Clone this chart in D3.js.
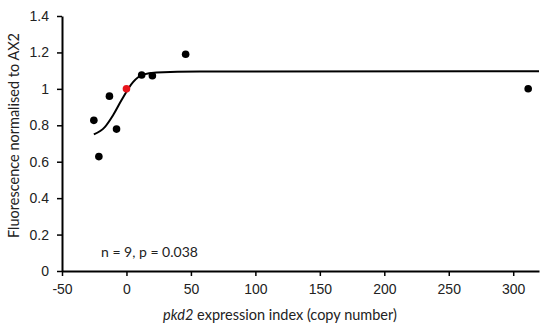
<!DOCTYPE html>
<html>
<head>
<meta charset="utf-8">
<script src="https://cdn.jsdelivr.net/npm/d3@7"></script>
<style>
  body { margin: 0; background: #fff; }
  svg { display: block; font-family: Lato, "Open Sans", sans-serif; }
</style>
</head>
<body>
<div id="chart"></div>
<script>
// ---- data ----
const pointsX = [-25.3, -21.4, -13.2, -7.7, 11.8, 20.1, 45.9, 311.6];
const pointsY = [0.827, 0.628, 0.96, 0.779, 1.076, 1.072, 1.19, 1.001];
const refPoint = [0, 1.0]; // red point
// fitted curve
const curveX = [-25.3, -16.8, -10.4, -3.9, 5.1, 12.8, 23.2, 56.7, 320];
const curveY = [0.75, 0.79, 0.855, 0.937, 1.037, 1.078, 1.09, 1.095, 1.097];
const xTicks = [-50, 0, 50, 100, 150, 200, 250, 300];
const yTicks = [0, 0.2, 0.4, 0.6, 0.8, 1, 1.2, 1.4];
const note = "n = 9, p = 0.038";

const width = 550, height = 330;
const margin = { top: 16, right: 11, bottom: 59, left: 62 };

const svg = d3.select("#chart").append("svg")
    .attr("width", width)
    .attr("height", height);

const x = d3.scaleLinear()
    .domain([-50, 320])
    .range([margin.left, width - margin.right]);

const y = d3.scaleLinear()
    .domain([0, 1.4])
    .range([height - margin.bottom, margin.top]);

// x axis (plain hyphen for negatives, like the original)
const xAxis = svg.append("g")
    .attr("transform", `translate(0,${y(0)})`)
    .call(d3.axisBottom(x).tickValues(xTicks).tickSize(5).tickSizeOuter(0).tickPadding(8)
        .tickFormat(d => String(d)));

// y axis
const yAxis = svg.append("g")
    .attr("transform", `translate(${x(-50)},0)`)
    .call(d3.axisLeft(y).tickValues(yTicks).tickSize(5).tickSizeOuter(0).tickPadding(8)
        .tickFormat(d => d === 0 || d === 1 ? d : d3.format(".1f")(d)));

[xAxis, yAxis].forEach(g => {
    g.select(".domain").attr("stroke", "#000").attr("stroke-width", 2);
    g.selectAll(".tick line").attr("stroke", "#000").attr("stroke-width", 1.5);
    g.selectAll(".tick text").attr("fill", "#222").style("font-size", "14px");
});

// fitted curve
const line = d3.line()
    .x(d => x(d[0]))
    .y(d => y(d[1]))
    .curve(d3.curveMonotoneX);

svg.append("path")
    .datum(d3.zip(curveX, curveY))
    .attr("fill", "none")
    .attr("stroke", "#000")
    .attr("stroke-width", 2)
    .attr("d", line);

// data points
svg.append("g")
    .selectAll("circle")
    .data(d3.zip(pointsX, pointsY))
    .join("circle")
    .attr("cx", d => x(d[0]))
    .attr("cy", d => y(d[1]))
    .attr("r", 3.8)
    .attr("fill", "#000");

svg.append("circle")
    .attr("cx", x(refPoint[0]))
    .attr("cy", y(refPoint[1]))
    .attr("r", 3.8)
    .attr("fill", "#e8141c");

// annotation
svg.append("text")
    .attr("x", 101)
    .attr("y", 257)
    .attr("fill", "#222")
    .style("font-size", "14px")
    .text(note);

// axis titles
const xTitle = svg.append("text")
    .attr("x", 280)
    .attr("y", 320)
    .attr("text-anchor", "middle")
    .attr("fill", "#222")
    .style("font-size", "14.5px");
xTitle.append("tspan").style("font-style", "italic").text("pkd2");
xTitle.append("tspan").text(" expression index (copy number)");

svg.append("text")
    .attr("transform", `translate(19,${(y(0) + y(1.4)) / 2 - 8}) rotate(-90)`)
    .attr("text-anchor", "middle")
    .attr("fill", "#222")
    .style("font-size", "14.5px")
    .text("Fluorescence normalised to AX2");
</script>
</body>
</html>
